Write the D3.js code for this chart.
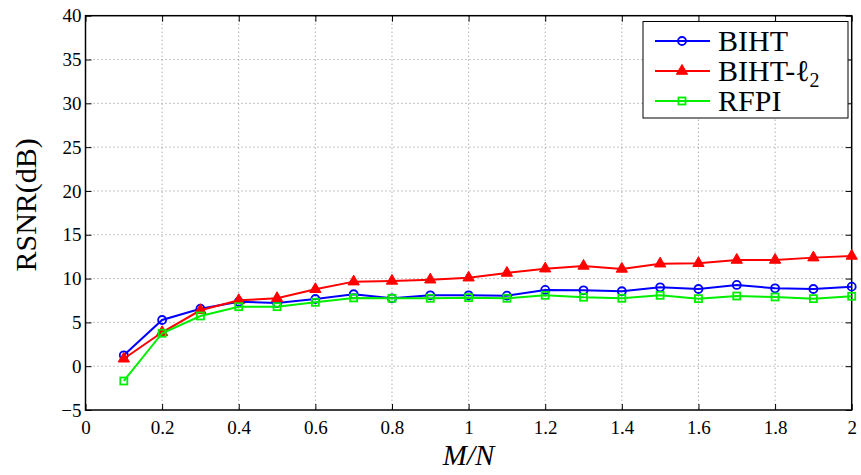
<!DOCTYPE html>
<html><head><meta charset="utf-8">
<script src="https://cdn.jsdelivr.net/npm/d3@7"></script>
<style>body{margin:0;background:#fff}svg{display:block}</style>
</head><body><svg id="c" width="861" height="475"></svg>
<script>
const xVals = [0.1,0.2,0.3,0.4,0.5,0.6,0.7,0.8,0.9,1.0,1.1,1.2,1.3,1.4,1.5,1.6,1.7,1.8,1.9,2.0];
const biht = [1.24,5.27,6.56,7.36,7.21,7.67,8.21,7.75,8.09,8.09,8.05,8.70,8.66,8.55,9.0,8.81,9.27,8.89,8.81,9.08];
const bihtL2 = [0.85,3.87,6.38,7.52,7.75,8.78,9.65,9.73,9.87,10.1,10.64,11.13,11.44,11.1,11.7,11.75,12.12,12.12,12.39,12.58];
const rfpi = [-1.69,3.76,5.73,6.79,6.79,7.29,7.79,7.75,7.75,7.82,7.75,8.09,7.87,7.75,8.09,7.71,8.01,7.9,7.71,7.98];
const xTicks = [0,0.2,0.4,0.6,0.8,1,1.2,1.4,1.6,1.8,2];
const xTickLabels = ["0","0.2","0.4","0.6","0.8","1","1.2","1.4","1.6","1.8","2"];
const yTicks = [-5,0,5,10,15,20,25,30,35,40];
const yTickLabels = ["\u22125","0","5","10","15","20","25","30","35","40"];
const seriesNames = ["BIHT","BIHT-\u2113","RFPI"];

const FONT = "'Liberation Serif','Times New Roman',Times,'DejaVu Serif',serif";
const svg = d3.select("#c");
const L=85.5, R=851.7, T=15.7, B=410;
const x = d3.scaleLinear().domain([0,2]).range([L,R]);
const y = d3.scaleLinear().domain([-5,40]).range([B,T]);

// grid
const g = svg.append("g");
g.selectAll(".gx").data(xTicks.slice(1,-1)).enter().append("line")
  .attr("x1",d=>x(d)).attr("x2",d=>x(d)).attr("y1",T).attr("y2",B)
  .attr("stroke","#888").attr("stroke-width",1).attr("stroke-dasharray","1,3");
g.selectAll(".gy").data(yTicks.slice(1,-1)).enter().append("line")
  .attr("y1",d=>y(d)).attr("y2",d=>y(d)).attr("x1",L).attr("x2",R)
  .attr("stroke","#888").attr("stroke-width",1).attr("stroke-dasharray","1,3");

// axes
const tl = 6;
const axB = d3.axisBottom(x).tickValues(xTicks).tickSize(-tl).tickPadding(11).tickFormat((d,i)=>xTickLabels[i]);
const axT = d3.axisTop(x).tickValues(xTicks).tickSize(-tl).tickFormat("");
const axL = d3.axisLeft(y).tickValues(yTicks).tickSize(-tl).tickPadding(4).tickFormat((d,i)=>yTickLabels[i]);
const axR = d3.axisRight(y).tickValues(yTicks).tickSize(-tl).tickFormat("");
function style(sel){sel.attr("font-family",FONT).attr("font-size",19);
  sel.select(".domain").remove();sel.selectAll("line").attr("stroke","#000").attr("stroke-width",1);
  sel.selectAll("text").attr("font-size",19).attr("fill","#000").attr("font-family",FONT);}
svg.append("g").attr("transform",`translate(0,${B})`).call(axB).call(style);
svg.append("g").attr("transform",`translate(0,${T})`).call(axT).call(style);
svg.append("g").attr("transform",`translate(${L},0)`).call(axL).call(style);
svg.append("g").attr("transform",`translate(${R},0)`).call(axR).call(style);
svg.append("rect").attr("x",L).attr("y",T).attr("width",R-L).attr("height",B-T)
  .attr("fill","none").attr("stroke","#000").attr("stroke-width",1.5);

// series
const series = [
  {name:seriesNames[0], vals:biht, color:"#0000ff", marker:"circle"},
  {name:seriesNames[1], vals:bihtL2, color:"#ff0000", marker:"triangle"},
  {name:seriesNames[2], vals:rfpi, color:"#00ee00", marker:"square"}
];
const line = d3.line().x(d=>x(d[0])).y(d=>y(d[1]));
function drawMarker(sel, s, cx, cy){
  if(s.marker==="circle"){
    sel.append("circle").attr("cx",cx).attr("cy",cy).attr("r",4).attr("fill","none").attr("stroke",s.color).attr("stroke-width",1.8);
  } else if(s.marker==="triangle"){
    const sym = d3.symbol().type(d3.symbolTriangle).size(55);
    sel.append("path").attr("d",sym()).attr("transform",`translate(${cx},${cy})`).attr("fill",s.color).attr("stroke",s.color).attr("stroke-width",1);
  } else {
    sel.append("rect").attr("x",cx-3.5).attr("y",cy-3.5).attr("width",7).attr("height",7).attr("fill","none").attr("stroke",s.color).attr("stroke-width",1.8);
  }
}
series.forEach(s=>{
  const data = xVals.map((v,i)=>[v,s.vals[i]]);
  const gg = svg.append("g");
  gg.append("path").datum(data).attr("d",line).attr("fill","none").attr("stroke",s.color).attr("stroke-width",2);
  data.forEach(d=>drawMarker(gg,s,x(d[0]),y(d[1])));
});

// axis labels
svg.append("text").attr("x",(L+R)/2).attr("y",465).attr("text-anchor","middle").attr("font-family",FONT)
  .attr("font-size",29).attr("font-style","italic").text("M/N");
svg.append("text").attr("transform",`translate(36,${(T+B)/2 - 8}) rotate(-90)`).attr("text-anchor","middle")
  .attr("font-family",FONT).attr("font-size",30).text("RSNR(dB)");

// legend
const lg = svg.append("g");
lg.append("rect").attr("x",643).attr("y",21.5).attr("width",205).attr("height",96.5)
  .attr("fill","#fff").attr("stroke","#000").attr("stroke-width",1);
series.forEach((s,i)=>{
  const cy = 41 + i*30;
  lg.append("line").attr("x1",655).attr("x2",710).attr("y1",cy).attr("y2",cy).attr("stroke",s.color).attr("stroke-width",2);
  drawMarker(lg,s,682,cy);
  const t = lg.append("text").attr("x",718).attr("y",cy+10).attr("font-size",30).attr("font-family",FONT);
  t.append("tspan").text(s.name);
  if(i===1){ t.append("tspan").attr("font-size",20).attr("dy",6).text("2"); }
});
</script></body></html>
